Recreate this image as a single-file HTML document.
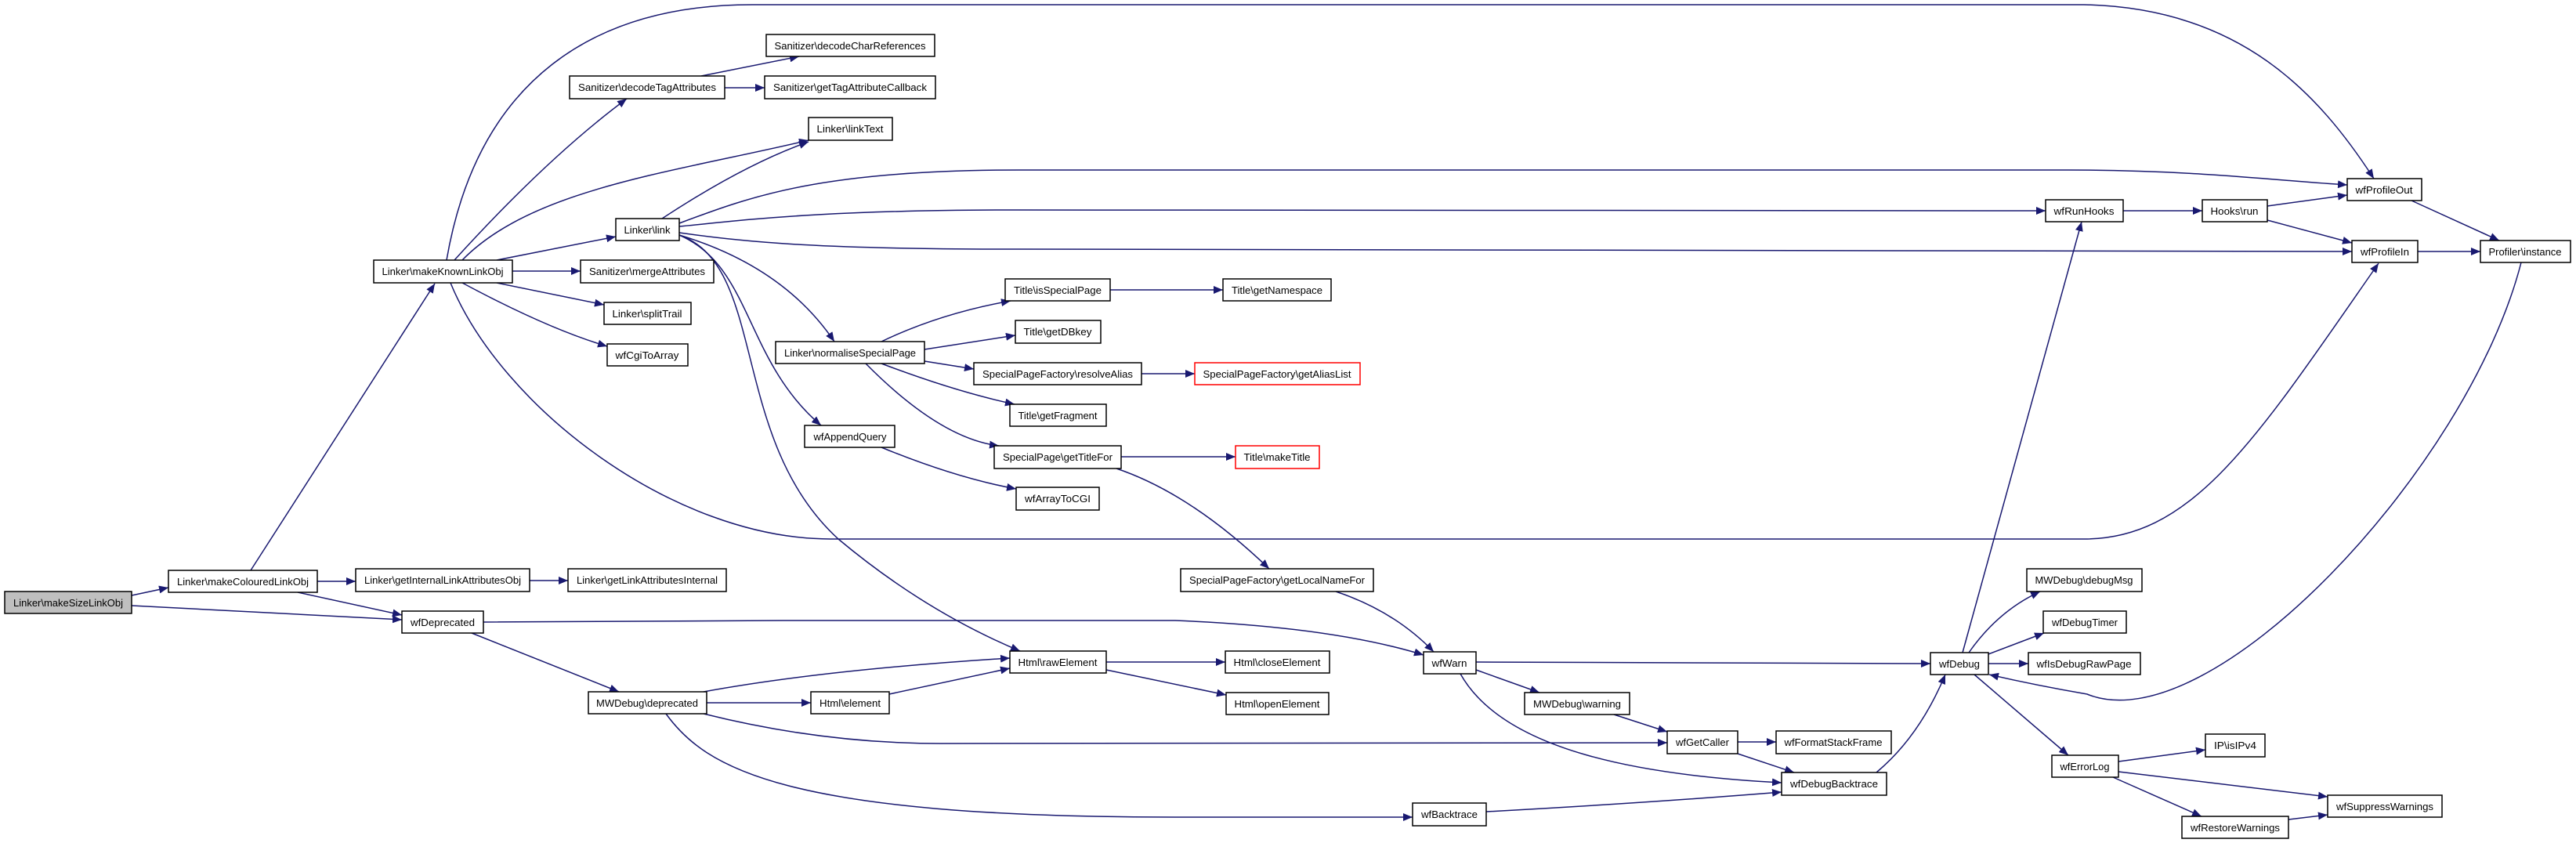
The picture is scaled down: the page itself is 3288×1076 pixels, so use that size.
<!DOCTYPE html>
<html><head><meta charset="utf-8"><style>
html,body{margin:0;padding:0;background:#fff;width:3288px;height:1076px;overflow:hidden}
svg{display:block}
.e{fill:none;stroke:#191970;stroke-width:1.5}
.n rect{fill:#fff;stroke:#000;stroke-width:1.5}
.n text{font-family:"Liberation Sans",sans-serif;font-size:13px;fill:#000;text-anchor:middle}
</style></head><body>
<svg width="3288" height="1076" viewBox="0 0 3288 1076" xmlns="http://www.w3.org/2000/svg">
<defs><marker id="a" markerWidth="12" markerHeight="10" refX="12" refY="5" orient="auto" markerUnits="userSpaceOnUse"><path d="M0,0 L12,5 L0,10z" fill="#191970"/></marker></defs>
<g class="e" marker-end="url(#a)">
<path d="M168,760 L215,750"/>
<path d="M168,773 L513,791"/>
<path d="M320,728 L555,362"/>
<path d="M405,742 L454,742"/>
<path d="M380,756 L513,785"/>
<path d="M676,741 L725,741"/>
<path d="M617,794 L1000,792 L1500,792 Q1700,800 1817,836"/>
<path d="M602,808 L790,883"/>
<path d="M570,332 C610,100 760,6 960,6 L2660,6 C2860,10 2960,120 3030,228"/>
<path d="M580,332 Q700,200 800,126"/>
<path d="M590,332 C680,240 860,220 1032,179"/>
<path d="M634,332 L786,302"/>
<path d="M654,346 L741,346"/>
<path d="M634,361 L771,389"/>
<path d="M590,361 Q700,420 775,442"/>
<path d="M575,361 C640,520 860,688 1060,688 L2660,688 C2800,688 2880,560 3036,336"/>
<path d="M895,97 L1020,72"/>
<path d="M925,112 L976,112"/>
<path d="M845,279 Q950,210 1032,181"/>
<path d="M867,285 C960,250 1050,217 1300,217 L2640,217 C2800,217 2900,230 2996,236"/>
<path d="M867,289 C960,280 1050,268 1300,268 L2611,269"/>
<path d="M867,297 C960,310 1050,318 1300,318 L3002,321"/>
<path d="M867,300 Q1000,340 1065,436"/>
<path d="M867,300 C960,340 950,460 1048,543"/>
<path d="M867,300 C980,340 930,560 1070,688 Q1180,780 1302,831"/>
<path d="M1125,436 Q1200,400 1290,384"/>
<path d="M1180,446 L1296,428"/>
<path d="M1180,461 L1243,471"/>
<path d="M1125,464 Q1220,500 1295,516"/>
<path d="M1105,464 Q1200,560 1275,569"/>
<path d="M1417,370 L1561,370"/>
<path d="M1457,477 L1525,477"/>
<path d="M1125,571 Q1220,610 1297,624"/>
<path d="M1431,583 L1577,583"/>
<path d="M1425,598 Q1520,630 1620,726"/>
<path d="M1705,755 Q1780,780 1830,832"/>
<path d="M1412,845 L1564,845"/>
<path d="M1412,855 L1565,887"/>
<path d="M1884,845 L2464,847"/>
<path d="M1884,855 L1965,884"/>
<path d="M1864,860 C1920,960 2100,990 2274,999"/>
<path d="M2060,912 L2128,934"/>
<path d="M898,883 Q1050,855 1289,840"/>
<path d="M902,897 L1035,897"/>
<path d="M1135,886 L1289,853"/>
<path d="M898,911 Q1050,949 1200,949 L2128,948"/>
<path d="M850,911 C900,980 1000,1043 1500,1043 L1803,1043"/>
<path d="M1897,1036 Q2100,1025 2274,1011"/>
<path d="M2218,947 L2267,947"/>
<path d="M2218,962 L2290,986"/>
<path d="M2395,986 Q2450,940 2483,861"/>
<path d="M2505,833 L2657,283"/>
<path d="M2513,833 Q2550,780 2604,755"/>
<path d="M2538,835 L2609,808"/>
<path d="M2538,847 L2589,847"/>
<path d="M2520,861 L2640,964"/>
<path d="M2704,972 L2815,957"/>
<path d="M2704,985 L2971,1017"/>
<path d="M2697,992 L2810,1042"/>
<path d="M2921,1046 L2971,1040"/>
<path d="M3218,335 C3150,600 2820,950 2664,886 Q2600,875 2539,861"/>
<path d="M2710,269 L2811,269"/>
<path d="M2894,263 L2996,249"/>
<path d="M2894,281 L3002,310"/>
<path d="M3078,256 L3190,307"/>
<path d="M3086,321 L3166,321"/>
</g>
<g class="n">
<rect x="6" y="755" width="162" height="28" style="fill:#bfbfbf"/><text x="87" y="774" textLength="140" lengthAdjust="spacingAndGlyphs">Linker\makeSizeLinkObj</text>
<rect x="215" y="728" width="190" height="28"/><text x="310" y="747" textLength="168" lengthAdjust="spacingAndGlyphs">Linker\makeColouredLinkObj</text>
<rect x="454" y="726" width="222" height="29"/><text x="565" y="745" textLength="200" lengthAdjust="spacingAndGlyphs">Linker\getInternalLinkAttributesObj</text>
<rect x="725" y="726" width="202" height="29"/><text x="826" y="745" textLength="180" lengthAdjust="spacingAndGlyphs">Linker\getLinkAttributesInternal</text>
<rect x="513" y="780" width="104" height="28"/><text x="565" y="799" textLength="82" lengthAdjust="spacingAndGlyphs">wfDeprecated</text>
<rect x="751" y="883" width="151" height="28"/><text x="826" y="902" textLength="130" lengthAdjust="spacingAndGlyphs">MWDebug\deprecated</text>
<rect x="477" y="332" width="177" height="29"/><text x="565" y="351" textLength="155" lengthAdjust="spacingAndGlyphs">Linker\makeKnownLinkObj</text>
<rect x="978" y="44" width="215" height="28"/><text x="1085" y="63" textLength="193" lengthAdjust="spacingAndGlyphs">Sanitizer\decodeCharReferences</text>
<rect x="727" y="97" width="198" height="29"/><text x="826" y="116" textLength="176" lengthAdjust="spacingAndGlyphs">Sanitizer\decodeTagAttributes</text>
<rect x="976" y="97" width="218" height="29"/><text x="1085" y="116" textLength="196" lengthAdjust="spacingAndGlyphs">Sanitizer\getTagAttributeCallback</text>
<rect x="1032" y="150" width="107" height="29"/><text x="1085" y="169" textLength="85" lengthAdjust="spacingAndGlyphs">Linker\linkText</text>
<rect x="786" y="279" width="81" height="28"/><text x="826" y="298" textLength="59" lengthAdjust="spacingAndGlyphs">Linker\link</text>
<rect x="741" y="332" width="170" height="29"/><text x="826" y="351" textLength="148" lengthAdjust="spacingAndGlyphs">Sanitizer\mergeAttributes</text>
<rect x="771" y="386" width="111" height="28"/><text x="826" y="405" textLength="89" lengthAdjust="spacingAndGlyphs">Linker\splitTrail</text>
<rect x="775" y="439" width="103" height="28"/><text x="826" y="458" textLength="81" lengthAdjust="spacingAndGlyphs">wfCgiToArray</text>
<rect x="990" y="436" width="190" height="28"/><text x="1085" y="455" textLength="168" lengthAdjust="spacingAndGlyphs">Linker\normaliseSpecialPage</text>
<rect x="1027" y="543" width="115" height="28"/><text x="1085" y="562" textLength="93" lengthAdjust="spacingAndGlyphs">wfAppendQuery</text>
<rect x="1283" y="356" width="134" height="28"/><text x="1350" y="375" textLength="112" lengthAdjust="spacingAndGlyphs">Title\isSpecialPage</text>
<rect x="1561" y="356" width="138" height="28"/><text x="1630" y="375" textLength="116" lengthAdjust="spacingAndGlyphs">Title\getNamespace</text>
<rect x="1296" y="409" width="109" height="29"/><text x="1350" y="428" textLength="87" lengthAdjust="spacingAndGlyphs">Title\getDBkey</text>
<rect x="1243" y="463" width="214" height="28"/><text x="1350" y="482" textLength="192" lengthAdjust="spacingAndGlyphs">SpecialPageFactory\resolveAlias</text>
<rect x="1525" y="463" width="211" height="28" style="stroke:#ff0000"/><text x="1630" y="482" textLength="189" lengthAdjust="spacingAndGlyphs">SpecialPageFactory\getAliasList</text>
<rect x="1289" y="516" width="123" height="28"/><text x="1350" y="535" textLength="101" lengthAdjust="spacingAndGlyphs">Title\getFragment</text>
<rect x="1269" y="569" width="162" height="29"/><text x="1350" y="588" textLength="140" lengthAdjust="spacingAndGlyphs">SpecialPage\getTitleFor</text>
<rect x="1577" y="569" width="107" height="29" style="stroke:#ff0000"/><text x="1630" y="588" textLength="85" lengthAdjust="spacingAndGlyphs">Title\makeTitle</text>
<rect x="1297" y="622" width="106" height="29"/><text x="1350" y="641" textLength="84" lengthAdjust="spacingAndGlyphs">wfArrayToCGI</text>
<rect x="1507" y="726" width="246" height="29"/><text x="1630" y="745" textLength="224" lengthAdjust="spacingAndGlyphs">SpecialPageFactory\getLocalNameFor</text>
<rect x="1289" y="831" width="123" height="28"/><text x="1350" y="850" textLength="101" lengthAdjust="spacingAndGlyphs">Html\rawElement</text>
<rect x="1564" y="831" width="133" height="28"/><text x="1630" y="850" textLength="111" lengthAdjust="spacingAndGlyphs">Html\closeElement</text>
<rect x="1035" y="883" width="100" height="28"/><text x="1085" y="902" textLength="78" lengthAdjust="spacingAndGlyphs">Html\element</text>
<rect x="1565" y="884" width="131" height="28"/><text x="1630" y="903" textLength="109" lengthAdjust="spacingAndGlyphs">Html\openElement</text>
<rect x="1817" y="832" width="67" height="28"/><text x="1850" y="851" textLength="45" lengthAdjust="spacingAndGlyphs">wfWarn</text>
<rect x="1946" y="884" width="134" height="28"/><text x="2013" y="903" textLength="112" lengthAdjust="spacingAndGlyphs">MWDebug\warning</text>
<rect x="1803" y="1025" width="94" height="29"/><text x="1850" y="1044" textLength="72" lengthAdjust="spacingAndGlyphs">wfBacktrace</text>
<rect x="2128" y="933" width="90" height="29"/><text x="2173" y="952" textLength="68" lengthAdjust="spacingAndGlyphs">wfGetCaller</text>
<rect x="2267" y="933" width="147" height="29"/><text x="2340" y="952" textLength="125" lengthAdjust="spacingAndGlyphs">wfFormatStackFrame</text>
<rect x="2274" y="986" width="134" height="29"/><text x="2341" y="1005" textLength="112" lengthAdjust="spacingAndGlyphs">wfDebugBacktrace</text>
<rect x="2464" y="833" width="74" height="28"/><text x="2501" y="852" textLength="52" lengthAdjust="spacingAndGlyphs">wfDebug</text>
<rect x="2587" y="726" width="147" height="29"/><text x="2660" y="745" textLength="125" lengthAdjust="spacingAndGlyphs">MWDebug\debugMsg</text>
<rect x="2608" y="780" width="106" height="28"/><text x="2661" y="799" textLength="84" lengthAdjust="spacingAndGlyphs">wfDebugTimer</text>
<rect x="2589" y="833" width="143" height="28"/><text x="2660" y="852" textLength="121" lengthAdjust="spacingAndGlyphs">wfIsDebugRawPage</text>
<rect x="2619" y="964" width="85" height="28"/><text x="2661" y="983" textLength="63" lengthAdjust="spacingAndGlyphs">wfErrorLog</text>
<rect x="2815" y="937" width="76" height="29"/><text x="2853" y="956" textLength="54" lengthAdjust="spacingAndGlyphs">IP\isIPv4</text>
<rect x="2971" y="1015" width="146" height="28"/><text x="3044" y="1034" textLength="124" lengthAdjust="spacingAndGlyphs">wfSuppressWarnings</text>
<rect x="2785" y="1042" width="136" height="28"/><text x="2853" y="1061" textLength="114" lengthAdjust="spacingAndGlyphs">wfRestoreWarnings</text>
<rect x="2611" y="255" width="99" height="28"/><text x="2660" y="274" textLength="77" lengthAdjust="spacingAndGlyphs">wfRunHooks</text>
<rect x="2811" y="255" width="83" height="28"/><text x="2852" y="274" textLength="61" lengthAdjust="spacingAndGlyphs">Hooks\run</text>
<rect x="2996" y="228" width="95" height="28"/><text x="3043" y="247" textLength="73" lengthAdjust="spacingAndGlyphs">wfProfileOut</text>
<rect x="3002" y="307" width="84" height="28"/><text x="3044" y="326" textLength="62" lengthAdjust="spacingAndGlyphs">wfProfileIn</text>
<rect x="3166" y="307" width="115" height="28"/><text x="3223" y="326" textLength="93" lengthAdjust="spacingAndGlyphs">Profiler\instance</text>
</g>
</svg>
</body></html>
